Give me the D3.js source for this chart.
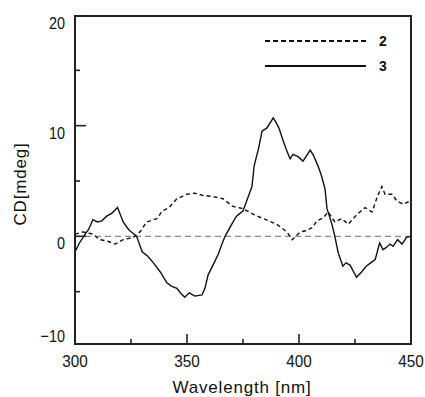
<!DOCTYPE html>
<html>
<head>
<meta charset="utf-8">
<script src="https://cdn.jsdelivr.net/npm/d3@7"></script>
<style>
  body { margin: 0; background: #fff; }
  svg { display: block; }
  .tick-label { font-family: "Liberation Sans", Arial, sans-serif; font-size: 17px; fill: #111; }
  .axis-title { font-family: "Liberation Sans", Arial, sans-serif; font-size: 17px; fill: #111; letter-spacing: 0.8px; }
  .legend-label { font-family: "Liberation Sans", Arial, sans-serif; font-size: 14px; font-weight: bold; fill: #111; }
</style>
</head>
<body>
<div id="chart"></div>
<script>
const width = 425;
const height = 397;

// sample 2 (dashed)
const wave2 = [300, 303.6, 308, 311, 314, 318, 321.5, 326, 329, 332, 336.5, 339, 342, 345.5, 350, 353.5, 357, 361.6, 366, 370.5, 375, 379.5, 384, 390, 394.6, 397, 400.5, 403, 406, 408, 411, 413, 416, 419, 422, 426, 429.5, 432.6, 435, 437, 438.4, 441.5, 443.7, 446.5, 448.6, 450];
const cd2 = [0.2, 0.4, 0.2, -0.3, -0.4, -0.7, -0.3, -0.1, 0.4, 1.3, 1.6, 2.3, 2.6, 3.4, 3.8, 3.9, 3.7, 3.6, 3.4, 2.7, 2.5, 2.0, 1.6, 1.1, 0.4, -0.3, 0.4, 0.5, 0.8, 1.4, 1.7, 2.2, 1.3, 1.6, 1.1, 2.0, 2.6, 2.2, 3.6, 4.5, 3.8, 3.8, 3.2, 2.9, 3.1, 3.1];

// sample 3 (solid)
const wave3 = [300, 302, 304.5, 306, 308, 310, 312, 314, 316.5, 319, 321.5, 324, 327.5, 330, 332.5, 335, 338, 341, 343, 345.5, 347, 349, 351, 353.5, 356.7, 358, 359.4, 361.6, 364, 365.6, 367, 370, 372, 375, 377, 379, 380, 382, 383.5, 385.7, 388.5, 390, 391, 393, 394.6, 396, 397.3, 399.6, 401.8, 405, 406.5, 408.6, 410, 411.6, 412.5, 414.7, 416, 417.5, 419.6, 421, 422.8, 425.7, 428, 430, 432, 434, 436, 437.5, 439, 440.6, 442, 444, 446, 448, 450];
const cd3 = [-1.4, -0.6, 0.2, 0.6, 1.5, 1.3, 1.4, 1.8, 2.1, 2.6, 1.3, 0.6, 0.0, -1.4, -1.8, -2.4, -3.2, -4.2, -4.5, -4.7, -5.1, -5.5, -5.1, -5.4, -5.3, -4.7, -3.5, -2.6, -1.6, -0.7, 0.0, 1.1, 1.8, 2.3, 3.4, 4.5, 6.4, 8.0, 9.5, 9.8, 10.7, 10.2, 9.8, 8.6, 7.7, 7.0, 7.4, 7.2, 6.8, 7.8, 7.3, 6.3, 5.5, 4.3, 2.5, 1.1, 0.0, -1.5, -2.7, -2.4, -2.6, -3.7, -3.2, -2.7, -2.4, -2.1, -0.6, -1.2, -1.0, -0.7, -0.9, -0.3, -0.7, -0.1, 0.0];

const xMajor = [300, 350, 400, 450];
const xMinor = [325, 375, 425];
const yMajor = [-10, 0, 10, 20];
const yMinor = [-5, 5, 15];

const legendItems = [
  { label: '2', dash: '5,3' },
  { label: '3', dash: null }
];

const plotLeft = 75, plotRight = 411, plotTop = 16, plotBottom = 344;

const svg = d3.select('#chart').append('svg')
  .attr('width', width)
  .attr('height', height);

const xScale = d3.scaleLinear().domain([300, 450]).range([plotLeft, plotRight]);
const yScale = d3.scaleLinear().domain([-10, 20]).range([347, 15]);
const yTickPos = v => Math.min(Math.max(yScale(v), plotTop), plotBottom);

// zero reference line
svg.append('line')
  .attr('x1', xScale(300)).attr('x2', xScale(450))
  .attr('y1', yScale(0)).attr('y2', yScale(0))
  .attr('stroke', '#8a8a8a')
  .attr('stroke-width', 1.3)
  .attr('stroke-dasharray', '6,4');

const line = d3.line()
  .x(d => xScale(d[0]))
  .y(d => yScale(d[1]));

svg.append('path')
  .datum(d3.zip(wave2, cd2))
  .attr('d', line)
  .attr('fill', 'none')
  .attr('stroke', '#111')
  .attr('stroke-width', 1.4)
  .attr('stroke-dasharray', '4,3');

svg.append('path')
  .datum(d3.zip(wave3, cd3))
  .attr('d', line)
  .attr('fill', 'none')
  .attr('stroke', '#111')
  .attr('stroke-width', 1.4);

// frame
svg.append('rect')
  .attr('x', plotLeft).attr('y', plotTop)
  .attr('width', plotRight - plotLeft).attr('height', plotBottom - plotTop)
  .attr('fill', 'none')
  .attr('stroke', '#222')
  .attr('stroke-width', 2);

// inward ticks
const ticks = svg.append('g').attr('stroke', '#222').attr('stroke-width', 1.6);
yMajor.forEach(v => {
  ticks.append('line').attr('x1', plotLeft).attr('x2', plotLeft + 11).attr('y1', yTickPos(v)).attr('y2', yTickPos(v));
});
yMinor.forEach(v => {
  ticks.append('line').attr('x1', plotLeft).attr('x2', plotLeft + 5).attr('y1', yTickPos(v)).attr('y2', yTickPos(v));
});
xMajor.forEach(v => {
  ticks.append('line').attr('x1', xScale(v)).attr('x2', xScale(v)).attr('y1', plotBottom).attr('y2', plotBottom - 10);
});
xMinor.forEach(v => {
  ticks.append('line').attr('x1', xScale(v)).attr('x2', xScale(v)).attr('y1', plotBottom).attr('y2', plotBottom - 5);
});

// tick labels (narrowed like the original instrument font)
svg.selectAll('.ylab').data(yMajor).enter().append('text')
  .attr('class', 'tick-label')
  .attr('transform', d => `translate(${plotLeft - 10},${Math.min(yTickPos(d) + 13, plotBottom - 2)}) scale(0.85,1)`)
  .attr('text-anchor', 'end')
  .text(d => d < 0 ? '\u2212' + Math.abs(d) : d);

svg.selectAll('.xlab').data(xMajor).enter().append('text')
  .attr('class', 'tick-label')
  .attr('transform', d => `translate(${xScale(d)},${plotBottom + 23}) scale(0.9,1)`)
  .attr('text-anchor', 'middle')
  .text(d => d);

// axis titles
svg.append('text')
  .attr('class', 'axis-title')
  .attr('x', 242)
  .attr('y', 393)
  .attr('text-anchor', 'middle')
  .text('Wavelength [nm]');

svg.append('text')
  .attr('class', 'axis-title')
  .attr('transform', 'translate(26,184) rotate(-90)')
  .attr('text-anchor', 'middle')
  .text('CD[mdeg]');

// legend
const legend = svg.append('g');
legendItems.forEach((item, i) => {
  const y = 41 + i * 25;
  legend.append('line')
    .attr('x1', 265).attr('x2', 366)
    .attr('y1', y).attr('y2', y)
    .attr('stroke', '#111')
    .attr('stroke-width', 1.8)
    .attr('stroke-dasharray', item.dash);
  legend.append('text')
    .attr('class', 'legend-label')
    .attr('x', 379)
    .attr('y', y + 5)
    .text(item.label);
});
</script>
</body>
</html>
